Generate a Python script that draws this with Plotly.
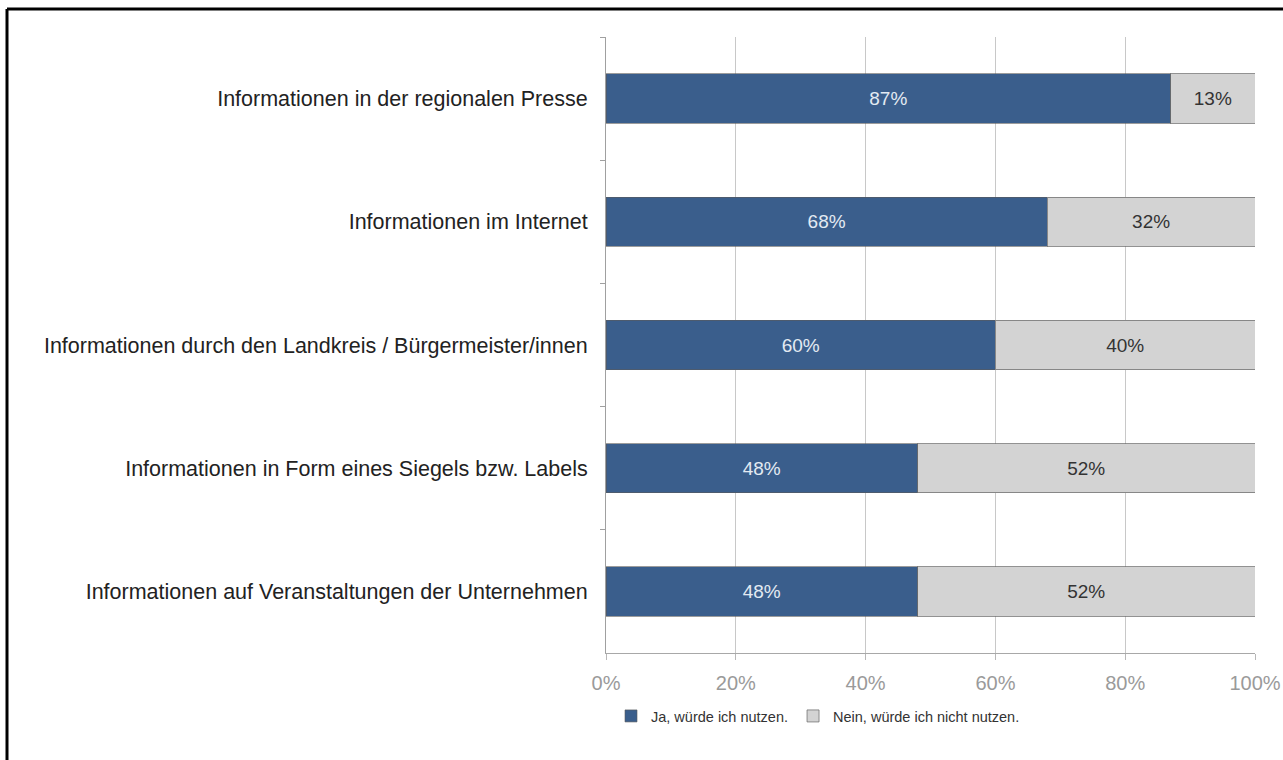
import plotly.graph_objects as go

categories = [
    "Informationen in der regionalen Presse",
    "Informationen im Internet",
    "Informationen durch den Landkreis / Bürgermeister/innen",
    "Informationen in Form eines Siegels bzw. Labels",
    "Informationen auf Veranstaltungen der Unternehmen",
]
ja_values = [87, 68, 60, 48, 48]
nein_values = [13, 32, 40, 52, 52]
series_names = ["Ja, würde ich nutzen.", "Nein, würde ich nicht nutzen."]
x_ticks = [0, 20, 40, 60, 80, 100]
x_tick_labels = ["0%", "20%", "40%", "60%", "80%", "100%"]

FONT = "Liberation Sans, Arial, sans-serif"
W, H = 1283, 760
ML, MR, MT, MB = 606, 28, 37, 107
PW, PH = W - ML - MR, H - MT - MB

fig = go.Figure()
fig.add_trace(go.Bar(
    y=categories, x=ja_values, orientation="h", name=series_names[0],
    marker=dict(color="#3A5E8C", line=dict(color="rgba(90,90,90,0.6)", width=1)),
    text=[f"{v}%" for v in ja_values], textposition="inside",
    insidetextanchor="middle",
    textfont=dict(family=FONT, size=19, color="#E3EAF2"),
    width=0.4, hoverinfo="skip",
))
fig.add_trace(go.Bar(
    y=categories, x=nein_values, orientation="h", name=series_names[1],
    marker=dict(color="#D3D3D3", line=dict(color="rgba(110,110,110,0.75)", width=1)),
    text=[f"{v}%" for v in nein_values], textposition="inside",
    insidetextanchor="middle",
    textfont=dict(family=FONT, size=19, color="#333333"),
    width=0.4, hoverinfo="skip",
))

# frame edges along the top and left of the figure
frame_left = (7 - ML) / PW
frame_top = 1 + (MT - 9) / PH
frame_bottom = (MT + PH - H) / PH
frame_right = (W - ML) / PW
fig.add_shape(type="line", xref="paper", yref="paper",
              x0=frame_left, x1=frame_right, y0=frame_top, y1=frame_top,
              line=dict(color="black", width=3), layer="above")
fig.add_shape(type="line", xref="paper", yref="paper",
              x0=frame_left, x1=frame_left, y0=frame_bottom, y1=frame_top,
              line=dict(color="black", width=3), layer="above")

fig.update_layout(
    width=W, height=H, barmode="stack",
    margin=dict(l=ML, r=MR, t=MT, b=MB, pad=0),
    paper_bgcolor="white", plot_bgcolor="white",
    font=dict(family=FONT, size=16, color="#222222"),
    showlegend=True,
    legend=dict(
        orientation="h", x=(818 - ML) / PW, xanchor="center",
        y=-(716 - (MT + PH)) / PH, yanchor="middle",
        font=dict(family=FONT, size=14.5, color="#333333"),
        itemwidth=30, traceorder="normal",
    ),
    xaxis=dict(
        range=[0, 100], tickvals=x_ticks, ticktext=x_tick_labels,
        showgrid=True, gridcolor="#C8C8C8", gridwidth=1,
        zeroline=False, showline=True, linecolor="#A8A8A8", linewidth=1,
        ticks="outside", ticklen=6, tickcolor="#B8B8B8",
        tickfont=dict(family=FONT, size=20, color="#9A9A9A"),
        ticklabelstandoff=6, automargin=False, fixedrange=True,
    ),
    yaxis=dict(
        autorange="reversed", type="category",
        showline=True, linecolor="#A0A0A0", linewidth=1,
        ticks="outside", tickson="boundaries", ticklen=5, tickcolor="#A0A0A0",
        tickfont=dict(family=FONT, size=21.5, color="#222222"),
        ticklabelstandoff=13, showgrid=False, automargin=False, fixedrange=True,
    ),
    bargap=0.6,
)

fig.write_html("out.html")
